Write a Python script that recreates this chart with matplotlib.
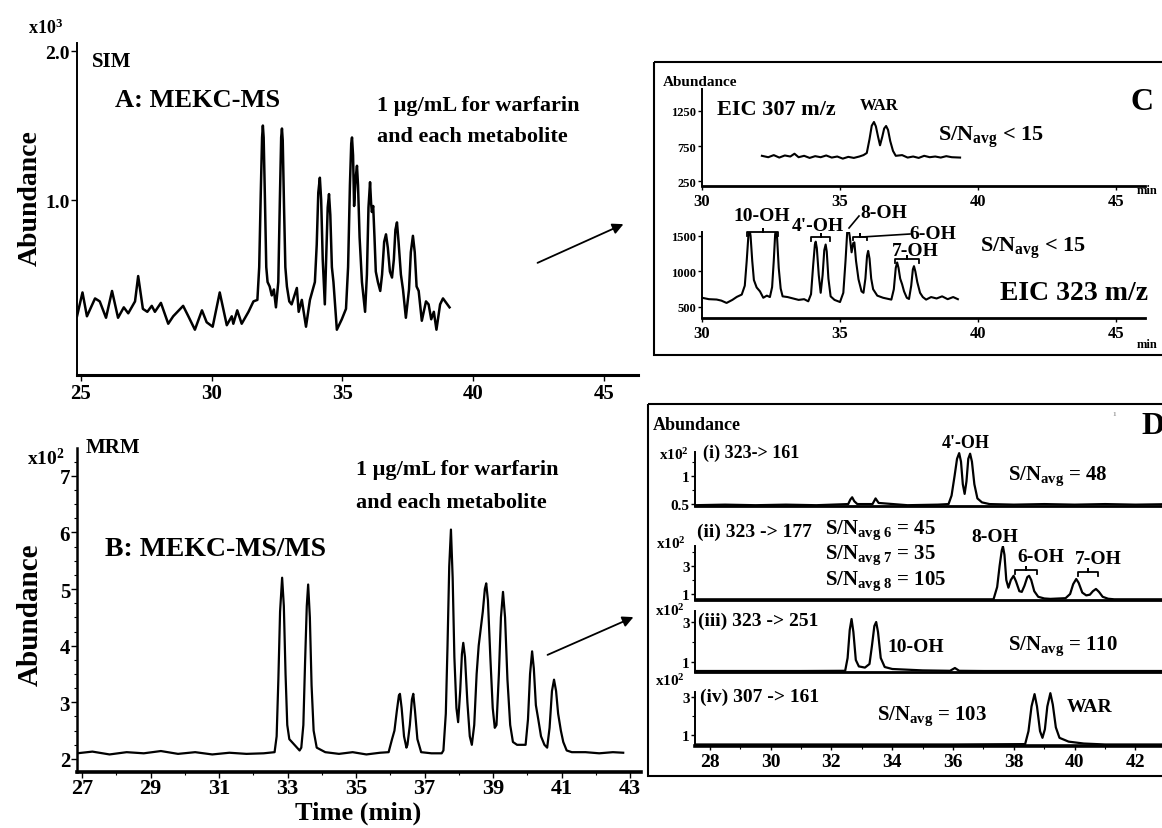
import matplotlib
matplotlib.use("Agg")
import matplotlib.pyplot as plt
from matplotlib.patches import Rectangle
from matplotlib.ticker import MultipleLocator

# ---- data --------------------------------------------------------------------
# A: MEKC-MS, SIM trace (abundance x10^3)
A_TIME = [24.85, 25.06, 25.23, 25.54, 25.72, 25.96, 26.19, 26.42, 26.64, 26.81,
          27.07, 27.19, 27.37, 27.54, 27.71, 27.83, 28.06, 28.34, 28.53, 28.91,
          29.11, 29.36, 29.63, 29.81, 30.04, 30.31, 30.58, 30.77, 30.83, 30.98,
          31.15, 31.41, 31.60, 31.75, 31.82, 31.88, 31.93, 31.96, 31.99, 32.04,
          32.09, 32.14, 32.22, 32.30, 32.38, 32.46, 32.55, 32.61, 32.66, 32.69,
          32.72, 32.77, 32.82, 32.88, 32.97, 33.06, 33.26, 33.33, 33.45, 33.61,
          33.76, 33.95, 34.02, 34.08, 34.14, 34.19, 34.25, 34.33, 34.38, 34.44,
          34.49, 34.54, 34.60, 34.66, 34.79, 34.98, 35.14, 35.22, 35.29, 35.34,
          35.37, 35.41, 35.45, 35.51, 35.56, 35.60, 35.66, 35.75, 35.87, 35.94,
          36.00, 36.06, 36.10, 36.13, 36.18, 36.23, 36.28, 36.36, 36.45, 36.52,
          36.60, 36.67, 36.74, 36.82, 36.90, 36.97, 37.03, 37.09, 37.15, 37.24,
          37.32, 37.43, 37.55, 37.62, 37.70, 37.77, 37.84, 37.92, 38.04, 38.20,
          38.30, 38.40, 38.50, 38.60, 38.74, 38.85, 39.10]
A_ABUND = [0.22, 0.38, 0.22, 0.34, 0.32, 0.21, 0.39, 0.21, 0.28, 0.24,
           0.32, 0.49, 0.27, 0.25, 0.29, 0.25, 0.31, 0.17, 0.22, 0.29,
           0.22, 0.13, 0.26, 0.18, 0.15, 0.38, 0.16, 0.22, 0.17, 0.26,
           0.17, 0.25, 0.32, 0.33, 0.55, 1.05, 1.42, 1.50, 1.42, 1.00,
           0.55, 0.45, 0.42, 0.36, 0.40, 0.28, 0.45, 1.00, 1.42, 1.48,
           1.40, 0.95, 0.55, 0.42, 0.32, 0.30, 0.41, 0.25, 0.33, 0.15,
           0.33, 0.45, 0.70, 1.05, 1.15, 1.00, 0.60, 0.30, 0.60, 0.95,
           1.04, 0.90, 0.55, 0.45, 0.13, 0.20, 0.27, 0.55, 1.10, 1.38,
           1.42, 1.30, 0.96, 1.15, 1.23, 1.10, 0.75, 0.45, 0.25, 0.50,
           0.95, 1.12, 0.98, 0.92, 0.96, 0.75, 0.52, 0.45, 0.39, 0.50,
           0.72, 0.77, 0.68, 0.52, 0.48, 0.60, 0.80, 0.85, 0.72, 0.50,
           0.40, 0.21, 0.40, 0.65, 0.76, 0.65, 0.42, 0.39, 0.19, 0.32,
           0.30, 0.20, 0.25, 0.13, 0.30, 0.34, 0.28]

# B: MEKC-MS/MS, MRM trace (abundance x10^2)
B_TIME = [26.85, 27.3, 27.8, 28.3, 28.8, 29.3, 29.8, 30.3, 30.8, 31.3, 31.8, 32.3,
          32.62, 32.68, 32.73, 32.78, 32.84, 32.89, 32.94, 32.99, 33.05, 33.20,
          33.35, 33.40, 33.46, 33.51, 33.56, 33.60, 33.65, 33.70, 33.76, 33.85,
          34.1, 34.5, 34.9, 35.3, 35.7, 35.95, 36.05, 36.12, 36.19, 36.25, 36.28,
          36.33, 36.40, 36.47, 36.50, 36.57, 36.63, 36.67, 36.72, 36.79, 36.90,
          37.2, 37.5, 37.55, 37.62, 37.67, 37.72, 37.77, 37.82, 37.87, 37.93,
          37.98, 38.04, 38.09, 38.13, 38.18, 38.25, 38.32, 38.38, 38.45, 38.52,
          38.58, 38.62, 38.70, 38.76, 38.80, 38.85, 38.92, 38.99, 39.05, 39.10,
          39.17, 39.23, 39.29, 39.35, 39.42, 39.50, 39.58, 39.70, 39.95, 40.02,
          40.08, 40.14, 40.19, 40.25, 40.32, 40.40, 40.50, 40.58, 40.65, 40.72,
          40.78, 40.84, 40.90, 40.98, 41.05, 41.15, 41.3, 41.7, 42.1, 42.5, 42.8]
B_ABUND = [2.10, 2.13, 2.08, 2.12, 2.10, 2.14, 2.09, 2.12, 2.08, 2.11, 2.09, 2.10,
           2.12, 2.40, 3.40, 4.60, 5.20, 4.70, 3.50, 2.60, 2.35, 2.25,
           2.15, 2.20, 2.60, 3.70, 4.70, 5.08, 4.50, 3.30, 2.50, 2.20,
           2.12, 2.09, 2.12, 2.08, 2.11, 2.12, 2.35, 2.50, 2.85, 3.12, 3.15,
           2.90, 2.40, 2.20, 2.25, 2.60, 3.05, 3.15, 2.85, 2.35, 2.12,
           2.10, 2.10, 2.15, 2.80, 4.00, 5.40, 6.05, 5.20, 3.80, 2.90,
           2.65, 3.20, 3.85, 4.05, 3.80, 3.00, 2.40, 2.25, 2.60, 3.50,
           4.00, 4.20, 4.60, 5.00, 5.10, 4.80, 3.80, 2.90, 2.55, 2.60,
           3.50, 4.50, 4.95, 4.50, 3.40, 2.60, 2.30, 2.25, 2.25, 2.70,
           3.50, 3.90, 3.60, 2.95, 2.70, 2.40, 2.25, 2.20, 2.55, 3.20,
           3.40, 3.20, 2.80, 2.50, 2.30, 2.15, 2.12, 2.12, 2.10, 2.12, 2.11]

# C: EIC 307 m/z
C1_TIME = [32.17, 32.4, 32.6, 32.8, 33.0, 33.2, 33.35, 33.5, 33.7, 33.9, 34.1,
           34.3, 34.5, 34.7, 34.9, 35.1, 35.3, 35.5, 35.7, 35.85, 35.97, 36.07,
           36.15, 36.23, 36.30, 36.38, 36.45, 36.53, 36.60, 36.67, 36.74, 36.82,
           36.92, 37.02, 37.25, 37.45, 37.65, 37.85, 38.05, 38.25, 38.45, 38.65,
           38.85, 39.05, 39.35]
C1_ABUND = [610, 590, 620, 585, 615, 600, 640, 590, 610, 580, 605,
            590, 615, 585, 600, 570, 595, 580, 600, 620, 650, 850,
            1040, 1093, 1030, 880, 760, 880, 1000, 1036, 980, 820,
            680, 610, 620, 585, 600, 580, 610, 590, 600, 585,
            605, 590, 585]

# C: EIC 323 m/z
C2_TIME = [30.0, 30.25, 30.53, 30.7, 30.89, 31.1, 31.26, 31.44, 31.55, 31.62,
           31.68, 31.72, 31.76, 31.82, 31.88, 31.98, 32.1, 32.22, 32.35, 32.46,
           32.54, 32.60, 32.65, 32.68, 32.72, 32.78, 32.85, 32.92, 33.1, 33.3,
           33.5, 33.7, 33.85, 33.95, 34.03, 34.09, 34.12, 34.16, 34.23, 34.30,
           34.37, 34.43, 34.48, 34.52, 34.58, 34.66, 34.8, 35.0, 35.12, 35.20,
           35.26, 35.30, 35.35, 35.42, 35.48, 35.52, 35.58, 35.67, 35.78, 35.85,
           35.92, 35.98, 36.02, 36.07, 36.13, 36.20, 36.35, 36.56, 36.86, 36.95,
           37.02, 37.07, 37.12, 37.18, 37.25, 37.32, 37.42, 37.50, 37.58, 37.64,
           37.68, 37.73, 37.80, 37.90, 38.0, 38.12, 38.3, 38.5, 38.7, 38.9,
           39.1, 39.27]
C2_ABUND = [630, 610, 605, 590, 557, 600, 642, 675, 800, 1150,
            1500, 1600, 1500, 1150, 880, 775, 720, 630, 660, 640,
            780, 1150, 1520, 1600, 1480, 1050, 760, 650, 640, 620,
            600, 610, 580, 680, 1100, 1380, 1420, 1330, 950, 700,
            950, 1300, 1380, 1280, 900, 650, 600, 570, 700, 1150,
            1550, 1620, 1500, 1270, 1400, 1410, 1150, 890, 720, 700,
            900, 1220, 1290, 1180, 900, 750, 660, 630, 604, 750,
            1050, 1127, 1050, 900, 820, 720, 630, 613, 800, 1030,
            1075, 1000, 850, 700, 640, 604, 640, 620, 650, 610,
            640, 610]

# D: MRM transitions (abundance x10^2)
D1_TIME = [27.5, 28.5, 29.5, 30.5, 31.5, 32.55, 32.62, 32.68, 32.75, 32.85,
           33.35, 33.45, 33.55, 34.5, 35.5, 35.85, 35.95, 36.05, 36.13, 36.20,
           36.26, 36.32, 36.38, 36.44, 36.50, 36.56, 36.62, 36.70, 36.80, 36.95,
           37.2, 38.0, 39.0, 40.0, 41.0, 42.0, 43.3]
D1_ABUND = [0.48, 0.49, 0.48, 0.49, 0.48, 0.50, 0.58, 0.62, 0.55, 0.50,
            0.50, 0.60, 0.52, 0.48, 0.49, 0.50, 0.65, 1.00, 1.30, 1.40,
            1.25, 0.85, 0.68, 0.90, 1.30, 1.39, 1.25, 0.85, 0.60, 0.53,
            0.50, 0.49, 0.50, 0.49, 0.50, 0.49, 0.50]

D2_TIME = [27.5, 29.0, 31.0, 33.0, 35.0, 37.33, 37.45, 37.53, 37.60, 37.64,
           37.69, 37.75, 37.82, 37.90, 37.99, 38.07, 38.18, 38.26, 38.35, 38.44,
           38.50, 38.57, 38.67, 38.80, 39.0, 39.2, 39.7, 39.85, 39.95, 40.05,
           40.13, 40.25, 40.38, 40.50, 40.60, 40.70, 40.80, 40.92, 41.1, 41.3,
           42.0, 43.3]
D2_ABUND = [0.62, 0.62, 0.62, 0.62, 0.62, 0.62, 1.5, 3.0, 4.1, 4.4,
            3.8, 2.0, 1.45, 2.0, 2.3, 1.9, 1.2, 1.15, 1.6, 2.2,
            2.3, 2.0, 1.2, 0.8, 0.68, 0.65, 0.70, 1.0, 1.7, 2.07,
            1.8, 1.1, 0.9, 0.95, 1.2, 1.36, 1.15, 0.8, 0.66, 0.62,
            0.62, 0.62]

D3_TIME = [27.5, 29.0, 31.0, 32.45, 32.53, 32.60, 32.66, 32.72, 32.80, 32.90,
           33.10, 33.25, 33.33, 33.41, 33.47, 33.53, 33.62, 33.75, 34.0, 35.0,
           35.9, 36.06, 36.2, 37.0, 39.0, 41.0, 43.3]
D3_ABUND = [0.55, 0.55, 0.55, 0.56, 1.2, 2.6, 3.15, 2.5, 1.1, 0.78,
            0.72, 0.9, 1.8, 2.8, 3.0, 2.5, 1.2, 0.75, 0.65, 0.58,
            0.56, 0.70, 0.56, 0.55, 0.55, 0.55, 0.55]

D4_TIME = [27.5, 30.0, 33.0, 36.0, 38.37, 38.48, 38.58, 38.68, 38.76, 38.86,
           38.94, 39.02, 39.10, 39.20, 39.28, 39.38, 39.50, 39.8, 40.3, 41.0, 43.3]
D4_ABUND = [0.50, 0.50, 0.50, 0.50, 0.52, 1.2, 2.5, 3.15, 2.5, 1.2,
            0.85, 1.3, 2.5, 3.2, 2.6, 1.4, 0.85, 0.65, 0.55, 0.50, 0.50]

# ---- style --------------------------------------------------------------------
W, H = 1162, 829
plt.rcParams.update({
    "font.family": "Liberation Serif", "font.weight": "bold",
    "mathtext.fontset": "custom", "mathtext.rm": "Liberation Serif:bold",
    "mathtext.it": "Liberation Serif:bold", "mathtext.bf": "Liberation Serif:bold",
    "mathtext.default": "rm",
    "xtick.direction": "out", "ytick.direction": "out",
})

fig = plt.figure(figsize=(W / 100, H / 100), dpi=100)


def chrom(x0, y0, x1, y1, xlim, ylim, lw_left=1.4, lw_bottom=2.2):
    """axes placed by pixel box (top-left origin)"""
    ax = fig.add_axes([x0 / W, 1 - y1 / H, (x1 - x0) / W, (y1 - y0) / H])
    ax.set_xlim(*xlim)
    ax.set_ylim(*ylim)
    ax.patch.set_alpha(0)
    for s in ("top", "right"):
        ax.spines[s].set_visible(False)
    ax.spines["left"].set_linewidth(lw_left)
    ax.spines["bottom"].set_linewidth(lw_bottom)
    return ax


# ---- A ------------------------------------------------------------------------
axA = chrom(77, 44, 638, 376, (24.85, 46.31), (-0.174, 2.054), 1.4, 2.2)
axA.plot(A_TIME, A_ABUND, color="black", lw=1.8)
axA.set_xticks([25, 30, 35, 40, 45])
axA.set_yticks([1.0, 2.0], ["1.0", "2.0"])
axA.tick_params(axis="x", labelsize=15, length=4, width=1, pad=2)
axA.tick_params(axis="y", labelsize=14, length=4, width=1, pad=1)

# ---- B ------------------------------------------------------------------------
axB = chrom(77, 449, 641, 773, (26.85, 43.32), (1.77, 7.49), 1.8, 2.6)
axB.plot(B_TIME, B_ABUND, color="black", lw=1.6)
axB.set_xticks(range(27, 44, 2))
axB.xaxis.set_minor_locator(MultipleLocator(1))
axB.set_yticks(range(2, 8))
axB.yaxis.set_minor_locator(MultipleLocator(0.25))
axB.tick_params(axis="x", labelsize=16, length=4, width=1, pad=0)
axB.tick_params(axis="y", labelsize=15, length=4, width=1, pad=1)
axB.tick_params(which="minor", length=2.5, width=0.8)

# ---- C ------------------------------------------------------------------------
axC1 = chrom(702, 90, 1145, 187, (30, 46.05), (179, 1564), 1.4, 2.0)
axC1.plot(C1_TIME, C1_ABUND, color="black", lw=1.5)
axC2 = chrom(702, 233, 1145, 319, (30, 46.05), (345, 1556), 1.4, 2.0)
axC2.plot(C2_TIME, C2_ABUND, color="black", lw=1.5)
axC1.set_yticks([250, 750, 1250])
axC2.set_yticks([500, 1000, 1500])
for ax in (axC1, axC2):
    ax.set_xticks([30, 35, 40, 45])
    ax.tick_params(axis="x", labelsize=12, length=3, width=1, pad=2)
    ax.tick_params(axis="y", labelsize=9, length=3, width=1, pad=1)

# ---- D ------------------------------------------------------------------------
DX = (27.51, 43.3)
axD1 = chrom(695, 453, 1175, 507, DX, (0.466, 1.42), 1.4, 2.0)
axD2 = chrom(695, 547, 1175, 601, DX, (0.57, 4.43), 1.4, 2.0)
axD3 = chrom(695, 612, 1175, 673, DX, (0.5, 3.55), 1.4, 2.0)
axD4 = chrom(695, 693, 1175, 747, DX, (0.42, 3.26), 1.4, 2.6)
for ax, t, v in ((axD1, D1_TIME, D1_ABUND), (axD2, D2_TIME, D2_ABUND),
                 (axD3, D3_TIME, D3_ABUND), (axD4, D4_TIME, D4_ABUND)):
    ax.plot(t, v, color="black", lw=1.6)
    ax.tick_params(axis="y", labelsize=11, length=3, width=1, pad=1)
    ax.tick_params(which="minor", length=2, width=0.8)
axD1.set_yticks([0.5, 1], ["0.5", "1"])
axD1.yaxis.set_minor_locator(MultipleLocator(0.25))
for ax in (axD2, axD3, axD4):
    ax.set_yticks([1, 3])
    ax.yaxis.set_minor_locator(MultipleLocator(1))
for ax in (axD1, axD2, axD3):
    ax.set_xticks([])
axD4.set_xticks(range(28, 43, 2))
axD4.xaxis.set_minor_locator(MultipleLocator(1))
axD4.tick_params(axis="x", labelsize=14, length=3, width=1, pad=2)

# ---- overlay in pixel coordinates --------------------------------------------
ov = fig.add_axes([0, 0, 1, 1])
ov.set_xlim(0, W)
ov.set_ylim(H, 0)
ov.axis("off")
ov.patch.set_alpha(0)


def T(x, y, s, size, ha="left", **kw):
    ov.text(x, y, s, fontsize=size, ha=ha, va="center", **kw)


def bracket(x0, x1, y, h=4):
    xm = (x0 + x1) / 2
    ov.plot([x0, x0, xm, xm, xm, x1, x1], [y + h, y, y, y - 3, y, y, y + h],
            color="black", lw=1.3)


ARROW = dict(arrowstyle="-|>", color="black", lw=1.3, mutation_scale=16)

# A texts
T(28, 28, r"x10$^{3}$", 13)
T(92, 62, "SIM", 15)
T(115, 100, "A: MEKC-MS", 19)
T(377, 106, "1 μg/mL for warfarin", 16)
T(377, 137, "and each metabolite", 16)
T(30, 198, "Abundance", 20, ha="center", rotation=90)
ov.annotate("", xy=(626, 224), xytext=(535, 265), arrowprops=ARROW)

# B texts
T(27, 459, r"x10$^{2}$", 14)
T(86, 448, "MRM", 15)
T(105, 550, "B: MEKC-MS/MS", 20)
T(356, 470, "1 μg/mL for warfarin", 16)
T(356, 503, "and each metabolite", 16)
T(30, 615, "Abundance", 21, ha="center", rotation=90)
T(358, 813, "Time (min)", 19, ha="center")
ov.annotate("", xy=(636, 617), xytext=(545, 657), arrowprops=ARROW)

# C box + texts
ov.add_patch(Rectangle((654, 63), 600, 293, fill=False, lw=1.5, ec="black"))
T(663, 82, "Abundance", 11)
T(717, 110, "EIC 307 m/z", 16)
T(860, 106, "WAR", 12)
T(938, 137, r"S/N$_{\mathrm{avg}}$ < 15", 16)
T(1130, 102, "C", 23)
T(1137, 191, "min", 9)
T(1137, 345, "min", 9)
T(762, 216, "10-OH", 14, ha="center")
bracket(747, 778, 233)
T(818, 226, "4'-OH", 14, ha="center")
bracket(811, 830, 238)
T(860, 213, "8-OH", 14)
ov.plot([859, 849], [217, 229], color="black", lw=1.2)
T(909, 234, "6-OH", 14)
ov.plot([910, 862], [235, 238], color="black", lw=1.2)
bracket(853, 867, 238, 3)
T(915, 251, "7-OH", 14, ha="center")
bracket(895, 919, 260)
T(980, 248, r"S/N$_{\mathrm{avg}}$ < 15", 16)
T(1000, 293, "EIC 323 m/z", 20)

# D box + texts
ov.add_patch(Rectangle((648, 405), 600, 372, fill=False, lw=1.5, ec="black"))
T(653, 425, "Abundance", 13)
T(1141, 426, "D", 23)
T(1112, 414, "1", 5, color="#999999")
T(659, 455, r"x10$^{2}$", 11)
T(703, 453, "(i) 323-> 161", 13)
T(966, 443, "4'-OH", 13, ha="center")
T(1008, 476, r"S/N$_{\mathrm{avg}}$ = 48", 15)
T(656, 544, r"x10$^{2}$", 11)
T(697, 532, "(ii) 323 -> 177", 14)
T(825, 530, r"S/N$_{\mathrm{avg\ 6}}$ = 45", 15)
T(825, 555, r"S/N$_{\mathrm{avg\ 7}}$ = 35", 15)
T(825, 581, r"S/N$_{\mathrm{avg\ 8}}$ = 105", 15)
T(971, 538, "8-OH", 14)
T(1017, 558, "6-OH", 14)
bracket(1015, 1037, 571)
T(1075, 559, "7-OH", 14)
bracket(1078, 1098, 573)
T(655, 611, r"x10$^{2}$", 11)
T(698, 621, "(iii) 323 -> 251", 14)
T(887, 647, "10-OH", 14)
T(1008, 646, r"S/N$_{\mathrm{avg}}$ = 110", 15)
T(655, 681, r"x10$^{2}$", 11)
T(700, 697, "(iv) 307 -> 161", 14)
T(877, 716, r"S/N$_{\mathrm{avg}}$ = 103", 15)
T(1067, 707, "WAR", 14)

fig.savefig("out.png", dpi=100)
